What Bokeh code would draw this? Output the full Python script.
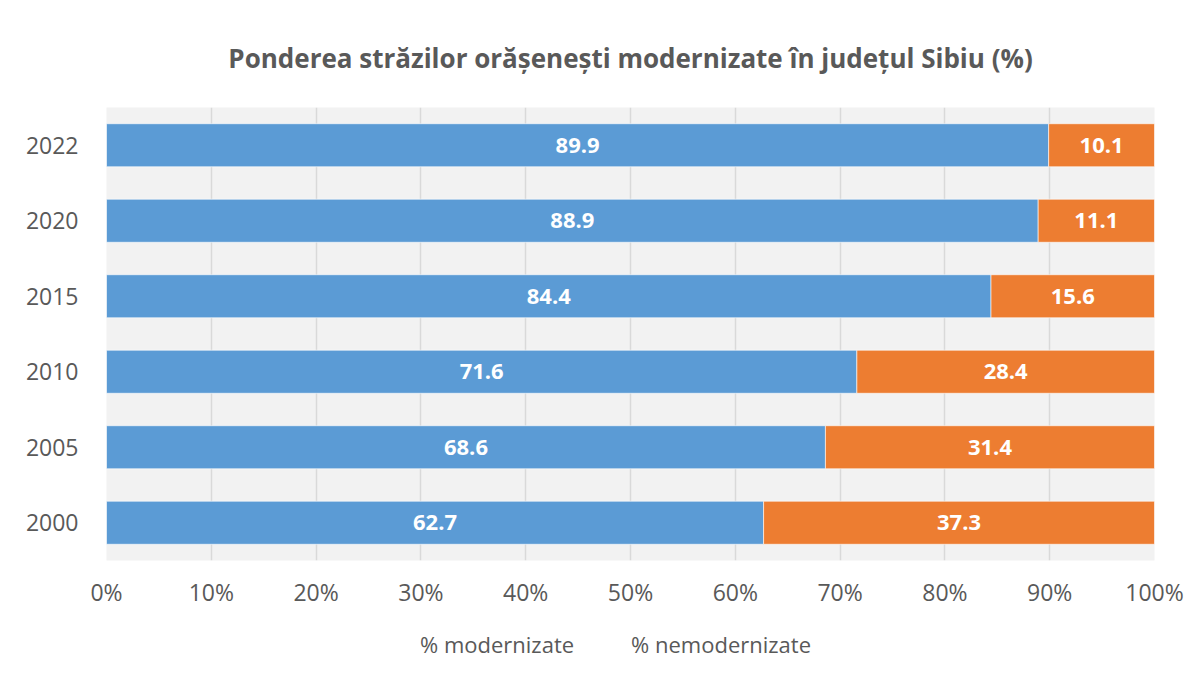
from bokeh.plotting import figure
from bokeh.layouts import column
from bokeh.models import ColumnDataSource, FactorRange, Range1d, LabelSet, Legend, LegendItem, PrintfTickFormatter, FixedTicker
from bokeh.core.properties import value
from bokeh.embed import file_html
from bokeh.resources import INLINE

years = ["2000", "2005", "2010", "2015", "2020", "2022"]
modernizate = [62.7, 68.6, 71.6, 84.4, 88.9, 89.9]
nemodernizate = [37.3, 31.4, 28.4, 15.6, 11.1, 10.1]
series_names = ["% modernizate", "% nemodernizate"]
colors = ["#5B9BD5", "#ED7D31"]
title_text = "Ponderea străzilor orășenești modernizate în județul Sibiu (%)"

FONT = "Open Sans"
GRAY = "#595959"

src = ColumnDataSource(dict(
    year=years,
    mod=modernizate,
    nem=nemodernizate,
    mod_mid=[m / 2 for m in modernizate],
    nem_mid=[m + n / 2 for m, n in zip(modernizate, nemodernizate)],
    mod_txt=["%.1f" % v for v in modernizate],
    nem_txt=["%.1f" % v for v in nemodernizate],
))

p = figure(frame_width=1048, frame_height=453, output_backend="svg", toolbar_location=None,
           y_range=FactorRange(factors=years, range_padding=0),
           x_range=Range1d(0, 100),
           min_border_left=106, min_border_right=40, min_border_top=107, min_border_bottom=45)

p.title.text = title_text
p.title.align = "center"
p.title.text_font = FONT
p.title.text_font_size = "26px"
p.title.text_font_style = "bold"
p.title.text_color = GRAY
p.title.standoff = 63

p.background_fill_color = "#F2F2F2"
p.border_fill_color = "white"
p.outline_line_color = None

r = p.hbar_stack(["mod", "nem"], y="year", height=0.57, color=colors, source=src,
                 line_color="white", line_width=1, line_alpha=0.6)

for xcol, tcol in (("mod_mid", "mod_txt"), ("nem_mid", "nem_txt")):
    p.add_layout(LabelSet(x=xcol, y="year", text=tcol, source=src,
                          text_align="center", text_baseline="middle", text_color="white",
                          text_font=value(FONT), text_font_size="22px", text_font_style="bold"))

p.xaxis.ticker = FixedTicker(ticks=list(range(0, 101, 10)))
p.xaxis.formatter = PrintfTickFormatter(format="%d%%")
for ax in (p.xaxis, p.yaxis):
    ax.axis_line_color = None
    ax.major_tick_line_color = None
    ax.minor_tick_line_color = None
    ax.major_label_text_font = FONT
    ax.major_label_text_font_size = "23px"
    ax.major_label_text_color = GRAY
p.xaxis.major_label_standoff = 9
p.yaxis.major_label_standoff = 22

p.xgrid.grid_line_color = "#D9D9D9"
p.xgrid.grid_line_width = 1.5
p.xgrid.ticker = FixedTicker(ticks=list(range(0, 101, 10)))
p.ygrid.grid_line_color = None

# legend strip below the chart
p2 = figure(width=1194, height=70, output_backend="svg", toolbar_location=None,
            x_range=Range1d(0, 1), y_range=Range1d(0, 1),
            min_border_left=0, min_border_right=0, min_border_top=0, min_border_bottom=0)
p2.axis.visible = False
p2.grid.grid_line_color = None
p2.outline_line_color = None
p2.background_fill_color = "white"
p2.border_fill_color = "white"
lr = [p2.hbar(y=[], right=[], height=1, fill_color=c, line_color=None) for c in colors]

legend = Legend(items=[LegendItem(label=series_names[0], renderers=[lr[0]]),
                       LegendItem(label=series_names[1], renderers=[lr[1]])],
                orientation="horizontal", location=(294, 21),
                label_text_font=FONT, label_text_font_size="22px", label_text_color=GRAY,
                glyph_width=14, glyph_height=14, spacing=37, label_standoff=6,
                border_line_color=None, background_fill_alpha=0, margin=0, padding=0)
p2.add_layout(legend, "center")

layout = column(p, p2, spacing=0)
open("out.html", "w").write(file_html(layout, INLINE))
